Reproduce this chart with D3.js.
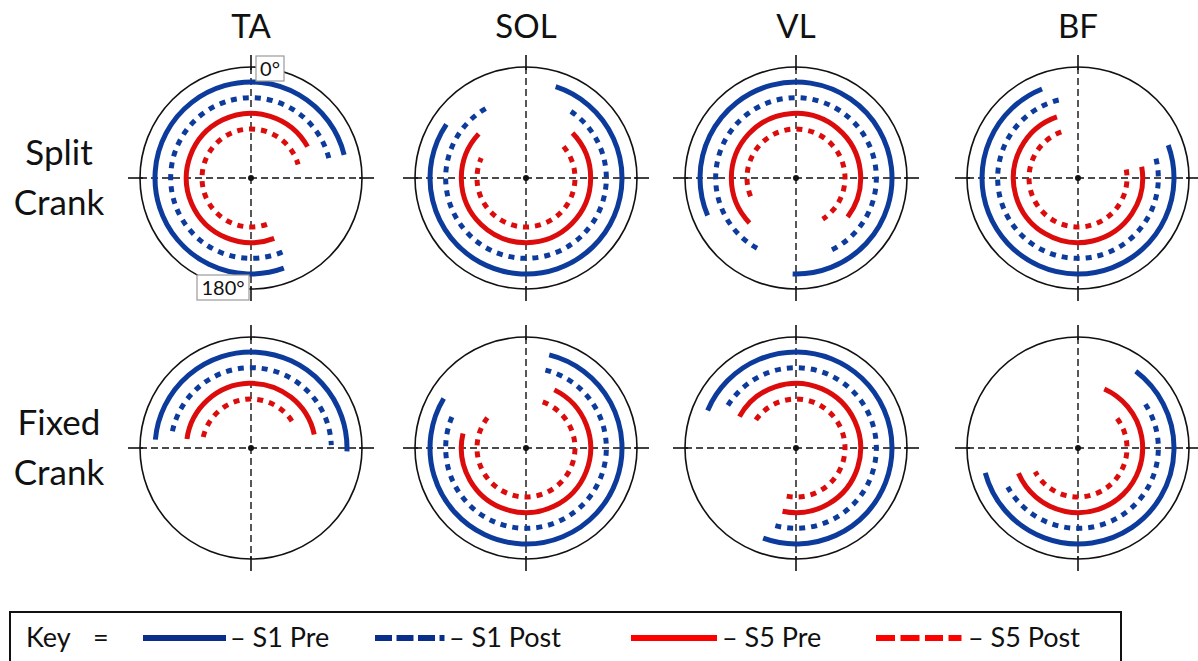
<!DOCTYPE html>
<html>
<head>
<meta charset="utf-8">
<script src="https://cdn.jsdelivr.net/npm/d3@7"></script>
<style>
  html, body { margin: 0; padding: 0; background: #fff; }
  svg { display: block; }
  text { font-family: Lato, "Open Sans", "Liberation Sans", sans-serif; fill: #111; }
</style>
</head>
<body>
<svg id="chart" width="1198" height="661"></svg>
<script>
// Muscles (columns), crank conditions (rows) and sessions (rings, outer to inner)
const muscles = ["TA", "SOL", "VL", "BF"];
const conditions = [["Split", "Crank"], ["Fixed", "Crank"]];
const sessions = ["S1 Pre", "S1 Post", "S5 Pre", "S5 Post"];

// Muscle activity onset / offset in crank degrees (0° = top, clockwise),
// one row per muscle, values in session order.
const splitOnset  = [[160, 157, 159, 161], [18, 34, 46, 50], [247, 209, 226, 248], [70, 76, 80, 80]];
const splitOffset = [[76, 77, 61, 74], [304, 334, 313, 294], [182, 156, 127, 147], [338, 348, 341, 340]];
const fixedOnset  = [[275, 282, 278, 283], [14, 14, 26, 20], [293, 302, 299, 305], [37, 57, 24, 53]];
const fixedOffset = [[92, 88, 78, 63], [301, 297, 283, 308], [200, 197, 192, 191], [255, 241, 247, 241]];

const angleTicks = ["0°", "180°"];

// ---- layout ----
const W = 1198, H = 661;
const colX = [251, 526, 796, 1078];
const rowY = [178, 448];
const R = 111;

const blue = "#0d3b9c", red = "#dc0c0c";
const sessionStyle = [
  { color: blue, dash: null },
  { color: blue, dash: "6,6" },
  { color: red,  dash: null },
  { color: red,  dash: "6,6" }
];

const svg = d3.select("#chart");
svg.append("rect").attr("width", W).attr("height", H).attr("fill", "#fff");

const angle = d3.scaleLinear().domain([0, 360]).range([0, 2 * Math.PI]);
const ring = d3.scaleLinear().domain([0, sessions.length - 1]).range([96, 49]);

function arcPath(r, a0, a1) {
  if (a1 <= a0) a1 += 360;
  const p = d3.path();
  p.arc(0, 0, r, angle(a0) - Math.PI / 2, angle(a1) - Math.PI / 2, false);
  return p.toString();
}

// column titles
svg.selectAll("text.title").data(muscles).join("text")
  .attr("class", "title")
  .attr("x", (d, i) => colX[i])
  .attr("y", 38)
  .attr("text-anchor", "middle")
  .attr("font-size", 33)
  .text(d => d);

// row titles
conditions.forEach((lines, r) => {
  svg.append("text")
    .attr("x", 59).attr("y", rowY[r] - 13)
    .attr("text-anchor", "middle").attr("font-size", 35)
    .text(lines[0]);
  svg.append("text")
    .attr("x", 59).attr("y", rowY[r] + 37)
    .attr("text-anchor", "middle").attr("font-size", 35)
    .text(lines[1]);
});

const onsets = [splitOnset, fixedOnset];
const offsets = [splitOffset, fixedOffset];

conditions.forEach((cond, r) => {
  muscles.forEach((m, c) => {
    const g = svg.append("g").attr("transform", `translate(${colX[c]},${rowY[r]})`);

    g.append("circle").attr("r", R)
      .attr("fill", "none").attr("stroke", "#111").attr("stroke-width", 1.6);

    // dashed crosshair inside the dial
    g.append("line").attr("x1", -R).attr("x2", R).attr("y1", 0).attr("y2", 0)
      .attr("stroke", "#111").attr("stroke-width", 1.4).attr("stroke-dasharray", "7,4");
    g.append("line").attr("y1", -R).attr("y2", R).attr("x1", 0).attr("x2", 0)
      .attr("stroke", "#111").attr("stroke-width", 1.4).attr("stroke-dasharray", "7,4");

    // solid ticks crossing the rim
    [[0, -1], [0, 1], [-1, 0], [1, 0]].forEach(([dx, dy]) => {
      g.append("line")
        .attr("x1", dx * (R - 3)).attr("y1", dy * (R - 3))
        .attr("x2", dx * (R + 12)).attr("y2", dy * (R + 12))
        .attr("stroke", "#111").attr("stroke-width", 1.6);
    });

    g.append("circle").attr("r", 3).attr("fill", "#111");

    // activity arcs
    g.selectAll("path.arc").data(sessions).join("path")
      .attr("class", "arc")
      .attr("d", (s, i) => arcPath(ring(i), onsets[r][c][i], offsets[r][c][i]))
      .attr("fill", "none")
      .attr("stroke", (s, i) => sessionStyle[i].color)
      .attr("stroke-width", 5)
      .attr("stroke-linecap", "butt")
      .attr("stroke-dasharray", (s, i) => sessionStyle[i].dash);

    // angle reference labels on the first dial
    if (r === 0 && c === 0) {
      const boxes = [
        { t: angleTicks[0], x: 5, y: -122, w: 28, h: 25 },
        { t: angleTicks[1], x: -54, y: 97, w: 52, h: 25 }
      ];
      boxes.forEach(b => {
        g.append("rect").attr("x", b.x).attr("y", b.y).attr("width", b.w).attr("height", b.h)
          .attr("fill", "#fff").attr("stroke", "#9a9a9a").attr("stroke-width", 1.2);
        g.append("text").attr("x", b.x + b.w / 2).attr("y", b.y + b.h / 2 + 7)
          .attr("text-anchor", "middle").attr("font-size", 20).text(b.t);
      });
    }
  });
});

// key
const key = svg.append("g");
key.append("rect").attr("x", 10).attr("y", 612).attr("width", 1111).attr("height", 70)
  .attr("fill", "#fff").attr("stroke", "#111").attr("stroke-width", 2);
const ky = 638;
key.append("text").attr("x", 26).attr("y", ky + 9).attr("font-size", 27).text("Key");
key.append("text").attr("x", 93).attr("y", ky + 9).attr("font-size", 27).text("=");

const keyItems = [
  { x0: 143, x1: 226, tx: 230, color: "#0a2f8a", dash: null },
  { x0: 375, x1: 445, tx: 449, color: "#0a2f8a", dash: "17,4.5,17,4.5,17,4.5,5,40" },
  { x0: 631, x1: 717, tx: 722, color: "#ff0000", dash: null },
  { x0: 876, x1: 962, tx: 968, color: "#ff0000", dash: "19,5.5,19,5.5,18,5.5,13,40" }
];
sessions.forEach((s, i) => {
  const k = keyItems[i];
  key.append("line").attr("x1", k.x0).attr("x2", k.x1).attr("y1", ky).attr("y2", ky)
    .attr("stroke", k.color).attr("stroke-width", 6).attr("stroke-dasharray", k.dash);
  key.append("text").attr("x", k.tx).attr("y", ky + 9).attr("font-size", 27).text("– " + s);
});
</script>
</body>
</html>
